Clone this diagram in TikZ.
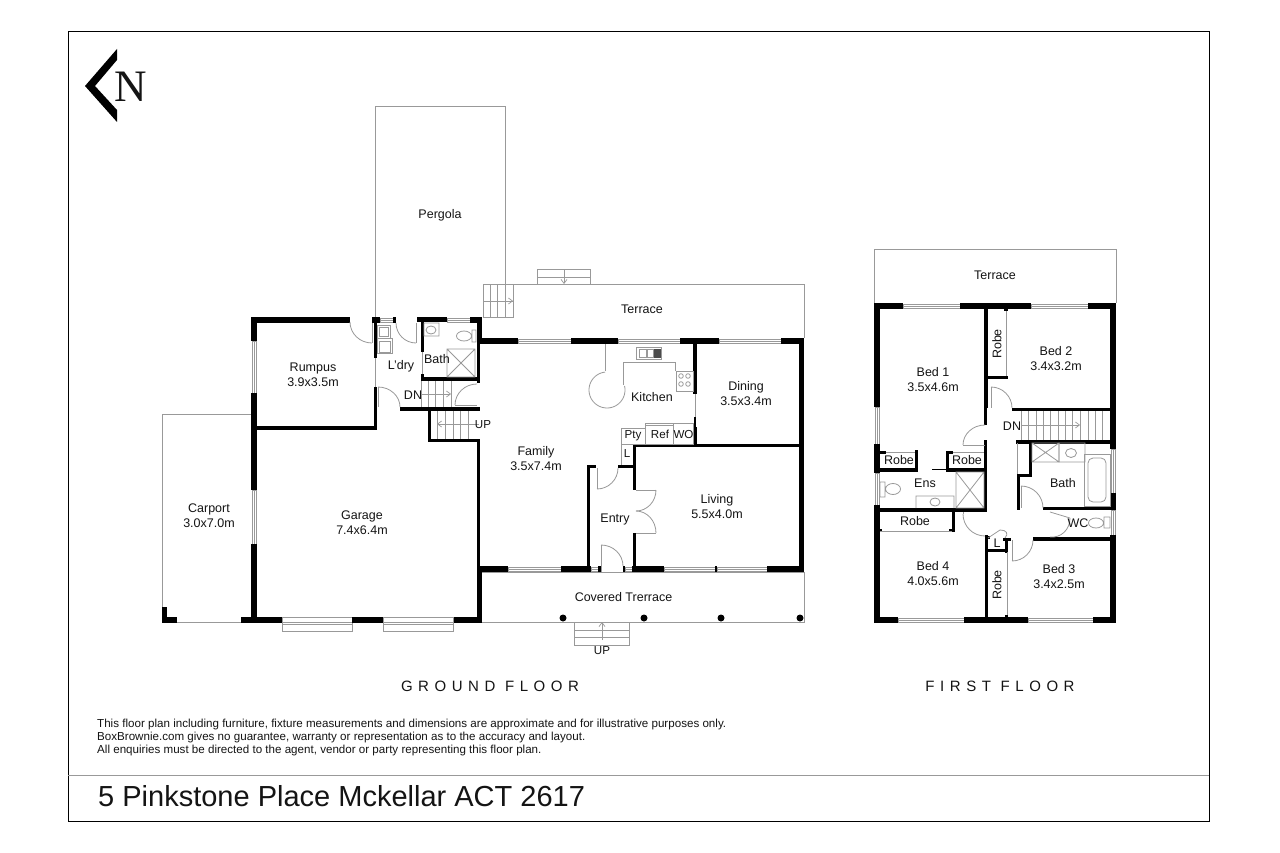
\documentclass[tikz,border=0pt]{standalone}
\usepackage{fontspec}
\setmainfont{Liberation Sans}
\newfontfamily\serifn{Liberation Serif}
\usetikzlibrary{arrows.meta}
\definecolor{lg}{gray}{0.6}
\definecolor{ink}{gray}{0.08}
\tikzset{
 fp/.style={draw=lg,line width=0.8pt},
 bd/.style={draw=black,line width=0.9pt},
 lab/.style={font=\fontsize{12.5}{15}\selectfont,text=ink,align=center,inner sep=0pt},
 smalllab/.style={font=\fontsize{11.6}{14}\selectfont,text=ink,align=center,inner sep=0pt},
 title/.style={font=\fontsize{15}{18}\selectfont\addfontfeature{LetterSpace=37},text=ink,inner sep=0pt},
 note/.style={font=\fontsize{11.6}{13}\selectfont,text=ink,align=left,inner sep=0pt,anchor=north west},
 stair/.style={draw=lg,line width=0.6pt},
 flow/.style={draw=lg,line width=0.7pt,-{Straight Barb[length=4pt,width=6pt]}}
}
\newcommand\wl[4]{\fill[black] (#1,#2) rectangle (#3,#4);}
\newcommand\winh[4]{\filldraw[fp,fill=white] (#1,#2) rectangle (#3,#4); \draw[fp] (#1,{(#2+#4)/2}) -- (#3,{(#2+#4)/2});}
\newcommand\winv[4]{\filldraw[fp,fill=white] (#1,#2) rectangle (#3,#4); \draw[fp] ({(#1+#3)/2},#2) -- ({(#1+#3)/2},#4);}
\newcommand\qarc[6]{\draw[fp] (#1,#2) .. controls ({#1+0.5523*(#3-#5)},{#2+0.5523*(#4-#6)}) and ({#3+0.5523*(#1-#5)},{#4+0.5523*(#2-#6)}) .. (#3,#4);}
\newcommand\crossbox[4]{\draw[fp] (#1,#2) rectangle (#3,#4) (#1,#2) -- (#3,#4) (#1,#4) -- (#3,#2);}
\begin{document}
\begin{tikzpicture}[x=1pt,y=-1pt]
\useasboundingbox (0,0) rectangle (1280,853);
\fill[white] (0,0) rectangle (1280,853);
% frame
\draw[bd] (68,31) rectangle (1209,821);
\draw[draw=lg,line width=0.8pt] (68,775) -- (1209,775);
% north
\fill[black] (117,49) -- (85,86) -- (117,122) -- (117,110) -- (95,86) -- (117,60) -- cycle;
\node[inner sep=0pt,font=\fontsize{45}{45}\selectfont\serifn,text=ink] (north) at (131,87) {N};
% ---------- ground floor: outside
\draw[fp] (375,317) -- (375,106) -- (505,106) -- (505,284);
\draw[fp] (483,317) -- (483,284) -- (804,284) -- (804,338);
\draw[fp] (537,284) -- (537,269) -- (590,269) -- (590,284) (537,277) -- (590,277);
\draw[flow] (564,269) -- (564,284);
\draw[stair] (483,284) rectangle (513,317) (483,301) -- (513,301) (490,284) -- (490,317) (497,284) -- (497,317) (505,284) -- (505,317);
\draw[flow] (483,301) -- (513,301);
\draw[fp] (482,622) -- (804,622) -- (804,572) -- (482,572);
\draw[fp] (574,622) -- (574,645) -- (629,645) -- (629,622) (574,630) -- (629,630) (574,637) -- (629,637);
\draw[flow] (602,640) -- (602,622);
\draw[fp] (251,414) -- (162,414) -- (162,610) (177,622) -- (241,622);
\wl{162}{607}{167}{623}\wl{162}{617}{177}{623}
\foreach \cx in {563,644,721,800} \fill[black] (\cx,618) circle (3.5);
% ---------- ground floor: walls
\wl{251}{317}{350}{323}\wl{251}{317}{257}{341}\winv{252}{341}{256}{393}\wl{251}{393}{257}{490}\winv{252}{490}{256}{544}\wl{251}{544}{257}{623}
\wl{241}{617}{282}{623}\winh{282}{617}{352}{631}\draw[fp] (282,622)--(352,622);\wl{352}{617}{383}{623}\winh{383}{617}{453.5}{631}\draw[fp] (383,622)--(453.5,622);\wl{453.5}{617}{482}{623}
\wl{477}{566}{482}{623}\wl{477}{439}{480}{566}
\wl{257}{426}{377}{430}\wl{374}{387}{377}{430}\wl{374}{323}{377}{358}\draw[fp] (375.5,358)--(375.5,387);
\wl{372}{317}{380}{323}\winh{380}{318}{393}{322}\wl{393}{317}{396}{323}\wl{417}{317}{447}{322}\winh{447}{318}{470}{322}\wl{470}{317}{482}{323}\wl{477}{317}{482}{344}
\wl{477}{338}{480}{383}\wl{421}{377}{480}{381}\wl{421}{322}{424}{352}\draw[fp] (422.5,352)--(422.5,374);\wl{421}{374}{424}{381}
\wl{400}{407}{480}{411}\wl{428}{407}{431}{442}\wl{428}{439}{480}{442}
% family / top wall
\wl{478}{338}{518}{344}\winh{518}{339}{571}{343}\wl{571}{338}{618}{344}\winh{618}{339}{680}{343}\wl{680}{338}{719}{344}\winh{719}{339}{781}{343}\wl{781}{338}{804}{344}
\wl{799}{338}{804}{572}
\wl{693}{344}{697}{394}\draw[fp] (695,394)--(695,417);\wl{694}{417}{696}{427}\wl{693}{427}{697}{445}
\wl{693}{444}{804}{447}\wl{633}{444}{693}{447}
\wl{633}{444}{636}{490}\wl{633}{533}{636}{566}
\wl{618}{465}{633}{468}\wl{587}{465}{596}{468}\wl{587}{465}{590}{566}
% bottom wall
\wl{478}{566}{508}{572}\winh{508}{567}{561}{571}\wl{561}{566}{591}{572}\winh{591}{567}{598}{571}\wl{598}{566}{600.5}{572}\wl{623}{566}{625}{572}\winh{625}{567}{632}{571}\wl{632}{566}{664}{572}\winh{664}{567}{715}{571}\wl{715}{566}{717}{572}\winh{717}{567}{767}{571}\wl{767}{566}{804}{572}
% ---------- ground floor: doors
\draw[fp] (372,323)--(372,343);\qarc{350}{322}{372}{343}{372}{322}
\draw[fp] (416,323)--(416,343);\qarc{396}{323}{416}{343}{416}{323}
\draw[fp] (378,387)--(378,407);\qarc{378}{387}{400}{407}{378}{407}
\draw[fp] (455,405.5)--(477,405.5);\qarc{455}{405}{477}{384}{477}{405}
\draw[fp] (597,468)--(597,489);\qarc{597}{489}{618}{468}{597}{468}
\draw[fp] (636,490)--(656,490);\qarc{656}{490}{636}{511}{636}{490}
\draw[fp] (636,533)--(656,533);\qarc{656}{533}{636}{511}{636}{533}
\draw[fp] (601,545)--(601,566);\qarc{601}{545}{623}{566}{601}{566}
\draw[fp] (601,566)--(601,572);
% ---------- ground floor: fittings
\draw[fp] (377,325) rectangle (390,338) (379,327) rectangle (388,336);
\draw[fp] (377,338) rectangle (392,353) (379,341) rectangle (390,352);
\draw[fp] (424,323) rectangle (439,336) (431,330) ellipse (5 and 4);
\draw[fp] (472,330) rectangle (476,342) (464,336) ellipse (7.5 and 5);
\crossbox{447}{349}{475}{377}
\draw[stair] (421,381)--(421,407) (428,381)--(428,407) (435,381)--(435,407) (443,381)--(443,407) (451,381)--(451,407);
\draw[flow] (420,394)--(451,394);
\draw[stair] (437,411)--(437,439) (445,411)--(445,439) (453,411)--(453,439) (460,411)--(460,439) (468,411)--(468,439);
\draw[flow] (479,424)--(437,424);
% kitchen
\draw[fp] (605,344)--(605,371);
\draw[fp] plot[domain=-13:264,samples=50] ({607+18*cos(\x)},{390+18*sin(\x)});
\draw[fp] (623,385)--(623,362)--(675,362)--(675,371);
\draw[fp] (676,371) rectangle (693,391);
\foreach \cx in {681,688} \foreach \cy in {376,384} \draw[fp] (\cx,\cy) circle (2.3);
\draw[fp] (636,347) rectangle (661,359) (639,349) rectangle (646,357) (647,349) rectangle (653,357);
\fill[black!70] (654,349) rectangle (661,358);
\draw[fp] (621,428) rectangle (645,444) (645,423) rectangle (673,444) (673,423) rectangle (693,444) (645,425.5)--(673,425.5);
\draw[fp] (621,444)--(621,465);
% ---------- first floor: outside
\draw[fp] (874,303) -- (874,249) -- (1116,249) -- (1116,303);
% ---------- first floor: walls
\wl{874}{303}{903}{308.5}\winh{903}{304}{960}{308}\wl{960}{303}{1031}{308.5}\winh{1031}{304}{1088}{308}\wl{1088}{303}{1116}{308.5}
\wl{874}{303}{880}{407}\winv{875}{407}{879}{444}\wl{874}{444}{880}{473}\winv{875}{473}{879}{505}\wl{874}{505}{880}{623}
\wl{1110}{303}{1116}{449}\winv{1111}{449}{1115}{493}\wl{1110}{493}{1116}{510}\winv{1111}{510}{1115}{535}\wl{1110}{535}{1116}{623}
\wl{874}{617}{898}{623}\winh{898}{618}{964}{622}\wl{964}{617}{1028}{623}\winh{1028}{618}{1093}{622}\wl{1093}{617}{1116}{623}
\wl{984}{308}{988}{408}\wl{984}{404}{987}{425}\wl{988}{376}{1008}{379}\draw[fp] (1006,308)--(1006,376);\wl{1004}{308}{1008}{311}
\wl{1012}{408}{1110}{411}\wl{1016}{440}{1110}{443.5}
\wl{880}{451}{886}{454}\wl{915}{450}{918}{470}\wl{880}{468}{918}{472}\draw[fp] (886,452)--(915,452);
\wl{946}{451}{949}{470}\wl{946}{451}{953}{454}\wl{984}{440}{987}{512}\wl{946}{468}{987}{472}\draw[fp] (953,452)--(984,452);\draw[draw=black,line width=0.8pt] (932,469.5)--(946,469.5);
\wl{880}{508}{987}{512}
\wl{952}{512}{955}{532}\wl{949}{529}{955}{532}\wl{880}{529}{882}{532}\draw[fp] (880,531)--(952,531);
\wl{985}{535}{988}{617}\wl{985}{536}{990}{539}\wl{1005}{538}{1008}{553}\wl{1003}{538}{1011}{540.5}\wl{988}{549}{1006}{552}\draw[fp] (1007,552)--(1007,617);
\wl{1005}{615}{1008}{617}
\wl{1033}{537}{1110}{541}\wl{1043}{507}{1110}{510}
\wl{1017}{477}{1020}{510}\wl{1017}{474}{1032}{477}\wl{1029}{443}{1032}{477}\draw[fp] (1017,443)--(1017,474);
% ---------- first floor: doors
\draw[fp] (991,387)--(991,408);\qarc{991}{387}{1012}{408}{991}{408}
\draw[fp] (963,445)--(985,445);\qarc{963}{445}{985}{425}{985}{445}
\draw[fp] (963,512)--(963,514);\qarc{963}{514}{985}{536}{985}{514}
\draw[fp] (988,538)--(1000,530);\qarc{1000}{530}{1005}{538}{993}{538}
\draw[fp] (1012,540)--(1012,561);\qarc{1012}{561}{1033}{540}{1012}{540}
\draw[fp] (1021,486)--(1021,508);\qarc{1021}{486}{1043}{508}{1021}{508}
\draw[fp] (1050,512)--(1070,518);\qarc{1070}{518}{1050}{537}{1050}{516}
% ---------- first floor: fittings
\foreach \sx in {1021,1028,1036,1043,1050,1058,1065,1072,1080,1088,1095,1102} \draw[stair] (\sx,411)--(\sx,440);
\draw[flow] (1021,425)--(1080,425);
\crossbox{956}{472}{984}{508}
\draw[fp] (880,482) rectangle (885,497) (893,489) ellipse (7.5 and 5.5);
\draw[fp] (916,508)--(916,496)--(954,496)--(954,508) (935,502) ellipse (5 and 4);
\crossbox{1032}{443}{1059}{462}
\draw[fp] (1059,443) rectangle (1085,462) (1071,453) ellipse (5.5 and 4.5);
\draw[fp] (1084,454) rectangle (1110,506);
\draw[fp,rounded corners=5pt] (1088,458) rectangle (1106,502);
\draw[fp] (1104,517) rectangle (1110,528) (1096,523) ellipse (7.5 and 5);
% ---------- labels
\node[lab] (pergola) at (440,215) {Pergola};
\node[lab] (terraceg) at (642,309) {Terrace};
\node[lab] (rumpus) at (313,374.5) {Rumpus\\3.9x3.5m};
\node[lab] (ldry) at (401,366) {L'dry};
\node[lab] (bathg) at (437,359.5) {Bath};
\node[lab] (dng) at (413,395) {DN};
\node[smalllab] (upg) at (483,425) {UP};
\node[lab] (kitchen) at (652,397) {Kitchen};
\node[lab] (dining) at (746,393.5) {Dining\\3.5x3.4m};
\node[lab] (family) at (536,458.5) {Family\\3.5x7.4m};
\node[smalllab] (pty) at (633,436) {Pty};
\node[smalllab] (refr) at (660,434) {Ref};
\node[smalllab] (wo) at (683.5,435) {WO};
\node[smalllab] (lg) at (627,454) {L};
\node[lab] (entry) at (615,519) {Entry};
\node[lab] (living) at (717,506.5) {Living\\5.5x4.0m};
\node[lab] (carport) at (209,515.5) {Carport\\3.0x7.0m};
\node[lab] (garage) at (362,522.5) {Garage\\7.4x6.4m};
\node[lab] (covered) at (623.5,597) {Covered Trerrace};
\node[smalllab] (upfront) at (602,651) {UP};
\node[lab] (terracef) at (995,275) {Terrace};
\node[lab] (bed1) at (933,379.5) {Bed 1\\3.5x4.6m};
\node[lab] (bed2) at (1056,358.5) {Bed 2\\3.4x3.2m};
\node[lab,rotate=90] (robea) at (997,344) {Robe};
\node[lab] (dnf) at (1012,426) {DN};
\node[lab] (robeb) at (899,460) {Robe};
\node[lab] (robec) at (967,460) {Robe};
\node[lab] (ens) at (925,483) {Ens};
\node[lab] (bathf) at (1063,483) {Bath};
\node[lab] (robed) at (915,521) {Robe};
\node[lab] (wc) at (1078,523) {WC};
\node[lab] (bed4) at (933,573.5) {Bed 4\\4.0x5.6m};
\node[lab] (bed3) at (1059,576.5) {Bed 3\\3.4x2.5m};
\node[lab] (lf) at (997,543) {L};
\node[lab,rotate=90] (robee) at (997,585) {Robe};
\node[title] (gf) at (490,686) {GROUND FLOOR};
\node[title] (ff) at (1000,686) {FIRST FLOOR};
\node[note] (disc) at (97,719) {This floor plan including furniture, fixture measurements and dimensions are approximate and for illustrative purposes only.\\BoxBrownie.com gives no guarantee, warranty or representation as to the accuracy and layout.\\All enquiries must be directed to the agent, vendor or party representing this floor plan.};
\node[inner sep=0pt,anchor=west,font=\fontsize{29}{32}\selectfont,text=ink] (addr) at (98,796) {5 Pinkstone Place Mckellar ACT 2617};
\end{tikzpicture}
\end{document}
